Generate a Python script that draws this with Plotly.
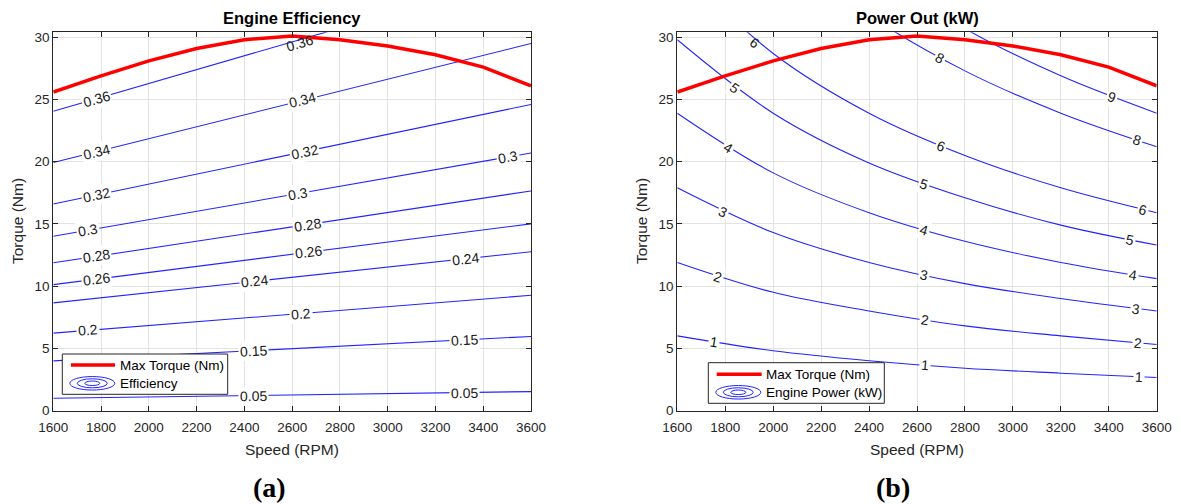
import numpy as np
import plotly.graph_objects as go

# ---------------- data ----------------
speed_rpm = [1600, 1800, 2000, 2200, 2400, 2600, 2800, 3000, 3200, 3400, 3600]
max_torque = [25.6, 26.9, 28.1, 29.1, 29.8, 30.1, 29.8, 29.3, 28.6, 27.6, 26.1]

# efficiency contours (straight lines): torque at 1600 and 3600 RPM
eff_levels = [0.05, 0.15, 0.2, 0.24, 0.26, 0.28, 0.3, 0.32, 0.34, 0.36]
eff_rpm_ends = [1600, 3600]
eff_T_1600 = [0.98, 3.99, 6.22, 8.65, 10.12, 11.87, 14.0, 16.6, 19.94, 24.05]
eff_T_3600 = [1.52, 5.95, 9.26, 12.76, 15.0, 17.65, 20.7, 24.6, 29.5, 35.2]
# label positions (level, rpm)
eff_label_level = [0.36, 0.36, 0.34, 0.34, 0.32, 0.32, 0.3, 0.3, 0.3, 0.28, 0.28,
                   0.26, 0.26, 0.24, 0.24, 0.2, 0.2, 0.15, 0.15, 0.05, 0.05]
eff_label_rpm = [1781, 2632, 1781, 2642, 1781, 2653, 1746, 2624, 3504, 1781, 2664,
                 1781, 2667, 2444, 3327, 1746, 2635, 2437, 3323, 2437, 3323]

# power contours: torque read at these speeds for each power level
pow_rpm = [1600, 2000, 2400, 2800, 3200, 3600]
pow_levels = [1, 2, 3, 4, 5, 6, 8, 9]
pow_T = {
    1: [6.0, 4.8, 4.0, 3.4, 3.0, 2.65],
    2: [11.9, 9.5, 8.0, 6.8, 6.0, 5.3],
    3: [17.9, 14.3, 11.9, 10.2, 9.0, 8.0],
    4: [23.9, 19.1, 15.9, 13.6, 11.9, 10.6],
    5: [29.8, 23.9, 19.9, 17.1, 14.9, 13.3],
    6: [35.8, 28.7, 23.9, 20.5, 17.9, 15.9],
    8: [47.7, 38.2, 31.8, 27.3, 23.9, 21.2],
    9: [53.7, 43.0, 35.8, 30.7, 26.9, 23.9],
}
pow_label_level = [1, 1, 1, 2, 2, 2, 3, 3, 3, 4, 4, 4, 5, 5, 5, 6, 6, 6, 8, 8, 9]
pow_label_rpm = [1752, 2633, 3525, 1769, 2633, 3521, 1792, 2629, 3514, 1813, 2629, 3500,
                 1840, 2629, 3489, 1924, 2700, 3544, 2696, 3517, 3412]

x_ticks = list(range(1600, 3601, 200))
y_ticks = [0, 5, 10, 15, 20, 25, 30]

# ---------------- layout geometry ----------------
W, H = 1181, 504
L_X0, L_X1 = 53.3, 531.0
R_X0, R_X1 = 677.3, 1156.7
Y_TOP, Y_BOT = 32.3, 410.5
Y_MAX = 30.4


def px(x):
    return x / W


def py(y):
    return 1 - y / H


BLUE = "rgb(35,35,255)"
RED = "#ff0000"
FONT = "Arial, Liberation Sans, Helvetica, sans-serif"
TXT = "#262626"

fig = go.Figure()

# efficiency lines
for lv, t0, t1 in zip(eff_levels, eff_T_1600, eff_T_3600):
    fig.add_trace(go.Scatter(x=eff_rpm_ends, y=[t0, t1], mode="lines",
                             line=dict(color=BLUE, width=1.1), showlegend=False,
                             hoverinfo="skip", xaxis="x", yaxis="y"))
# power lines
for lv in pow_levels:
    fig.add_trace(go.Scatter(x=pow_rpm, y=pow_T[lv], mode="lines",
                             line=dict(color=BLUE, width=1.1, shape="spline"),
                             showlegend=False, hoverinfo="skip", xaxis="x2", yaxis="y2"))
# max torque
for xa, ya in (("x", "y"), ("x2", "y2")):
    fig.add_trace(go.Scatter(x=speed_rpm, y=max_torque, mode="lines",
                             line=dict(color=RED, width=3.5), showlegend=False,
                             hoverinfo="skip", xaxis=xa, yaxis=ya))

annotations = []
shapes = []


def on_line(r, xs, ys, logscale):
    if logscale:
        return float(np.exp(np.interp(np.log(r), np.log(xs), np.log(ys))))
    return float(np.interp(r, xs, ys))


def label_ann(xs, ys, r, text, xref, yref, pxw, logscale=False):
    t = on_line(r, xs, ys, logscale)
    d = (on_line(r + 40, xs, ys, logscale) - on_line(r - 40, xs, ys, logscale)) / 80.0
    pxs = pxw / 2000.0
    pys = (Y_BOT - Y_TOP) / Y_MAX
    ang = -np.degrees(np.arctan(d * pys / pxs))
    # keep the red max-torque curve visible where a label sits right under it
    near_red = t + 0.9 > float(np.interp(r, speed_rpm, max_torque)) and t < 30.4
    bg = "rgba(255,255,255,0)" if near_red else "white"
    return dict(x=r, y=t - (0.25 if near_red else 0), xref=xref, yref=yref, text=text,
                showarrow=False, xanchor="center", yanchor="middle",
                textangle=ang, font=dict(family=FONT, size=14, color="#1a1a1a"),
                bgcolor=bg, borderpad=1)


eff_map = {lv: (t0, t1) for lv, t0, t1 in zip(eff_levels, eff_T_1600, eff_T_3600)}
for lv, r in zip(eff_label_level, eff_label_rpm):
    t0, t1 = eff_map[lv]
    annotations.append(label_ann(eff_rpm_ends, [t0, t1], r, f"{lv:g}", "x", "y", L_X1 - L_X0))
for lv, r in zip(pow_label_level, pow_label_rpm):
    annotations.append(label_ann(pow_rpm, pow_T[lv], r, f"{lv:g}", "x2", "y2", R_X1 - R_X0,
                                 logscale=True))


def paper_text(xc, yc, text, font, angle=0, xanchor="center"):
    annotations.append(dict(x=px(xc), y=py(yc), xref="paper", yref="paper", text=text,
                            showarrow=False, xanchor=xanchor, yanchor="middle",
                            textangle=angle, font=font))


# titles
paper_text((L_X0 + L_X1) / 2, 18, "<b>Engine Efficiency</b>",
           dict(family=FONT, size=16.5, color="black"))
paper_text((R_X0 + R_X1) / 2, 18, "<b>Power Out (kW)</b>",
           dict(family=FONT, size=16.5, color="black"))
# axis titles
for xc in ((L_X0 + L_X1) / 2, (R_X0 + R_X1) / 2):
    paper_text(xc, 449, "Speed (RPM)", dict(family=FONT, size=15.5, color=TXT))
for xc in (17, 641):
    paper_text(xc, 221, "Torque (Nm)", dict(family=FONT, size=15.5, color=TXT), angle=-90)
# captions
for xc, t in ((269, "(a)"), (893, "(b)")):
    paper_text(xc, 487, f"<b>{t}</b>",
               dict(family="Liberation Serif, Times New Roman, serif", size=28, color="black"))


# custom legends
def legend_box(x0, x1, y0, y1, red_x0, red_x1, red_y, ell_cx, ell_cy, txt_x, t1, t2):
    shapes.append(dict(type="rect", xref="paper", yref="paper", x0=px(x0), x1=px(x1),
                       y0=py(y1), y1=py(y0), line=dict(color=TXT, width=1), fillcolor="white",
                       layer="above"))
    shapes.append(dict(type="line", xref="paper", yref="paper", x0=px(red_x0), x1=px(red_x1),
                       y0=py(red_y), y1=py(red_y), line=dict(color=RED, width=3.5), layer="above"))
    for w, h in ((45, 13.5), (30, 9), (15, 4.5)):
        shapes.append(dict(type="circle", xref="paper", yref="paper",
                           x0=px(ell_cx - w / 2), x1=px(ell_cx + w / 2),
                           y0=py(ell_cy + h / 2), y1=py(ell_cy - h / 2),
                           line=dict(color=BLUE, width=1), layer="above"))
    for yy, t in ((red_y, t1), (ell_cy, t2)):
        paper_text(txt_x, yy, t, dict(family=FONT, size=13.5, color="black"), xanchor="left")


legend_box(62.3, 227.7, 354, 394.3, 71, 115, 365, 92.3, 383.3, 117.5,
           "Max Torque (Nm)", "Efficiency")
legend_box(708.3, 884.3, 362.7, 403.3, 716.7, 761.7, 374.3, 738.3, 392.3, 763.5,
           "Max Torque (Nm)", "Engine Power (kW)")

axis_common = dict(showline=True, linecolor=TXT, linewidth=1, mirror="ticks", ticks="inside",
                   ticklen=5, tickcolor=TXT, showgrid=True, gridcolor="#e3e3e3", gridwidth=1,
                   zeroline=False, automargin=False,
                   tickfont=dict(family=FONT, size=13.5, color=TXT))

fig.update_layout(
    width=W, height=H, margin=dict(l=0, r=0, t=0, b=0, autoexpand=False),
    paper_bgcolor="white", plot_bgcolor="white", showlegend=False,
    xaxis=dict(domain=[px(L_X0), px(L_X1)], range=[1600, 3600], tickvals=x_ticks,
               anchor="y", ticklabelstandoff=4, **axis_common),
    yaxis=dict(domain=[py(Y_BOT), py(Y_TOP)], range=[0, Y_MAX], tickvals=y_ticks,
               anchor="x", **axis_common),
    xaxis2=dict(domain=[px(R_X0), px(R_X1)], range=[1600, 3600], tickvals=x_ticks,
                anchor="y2", ticklabelstandoff=4, **axis_common),
    yaxis2=dict(domain=[py(Y_BOT), py(Y_TOP)], range=[0, Y_MAX], tickvals=y_ticks,
                anchor="x2", **axis_common),
    annotations=annotations, shapes=shapes,
)

fig.write_html("out.html")
